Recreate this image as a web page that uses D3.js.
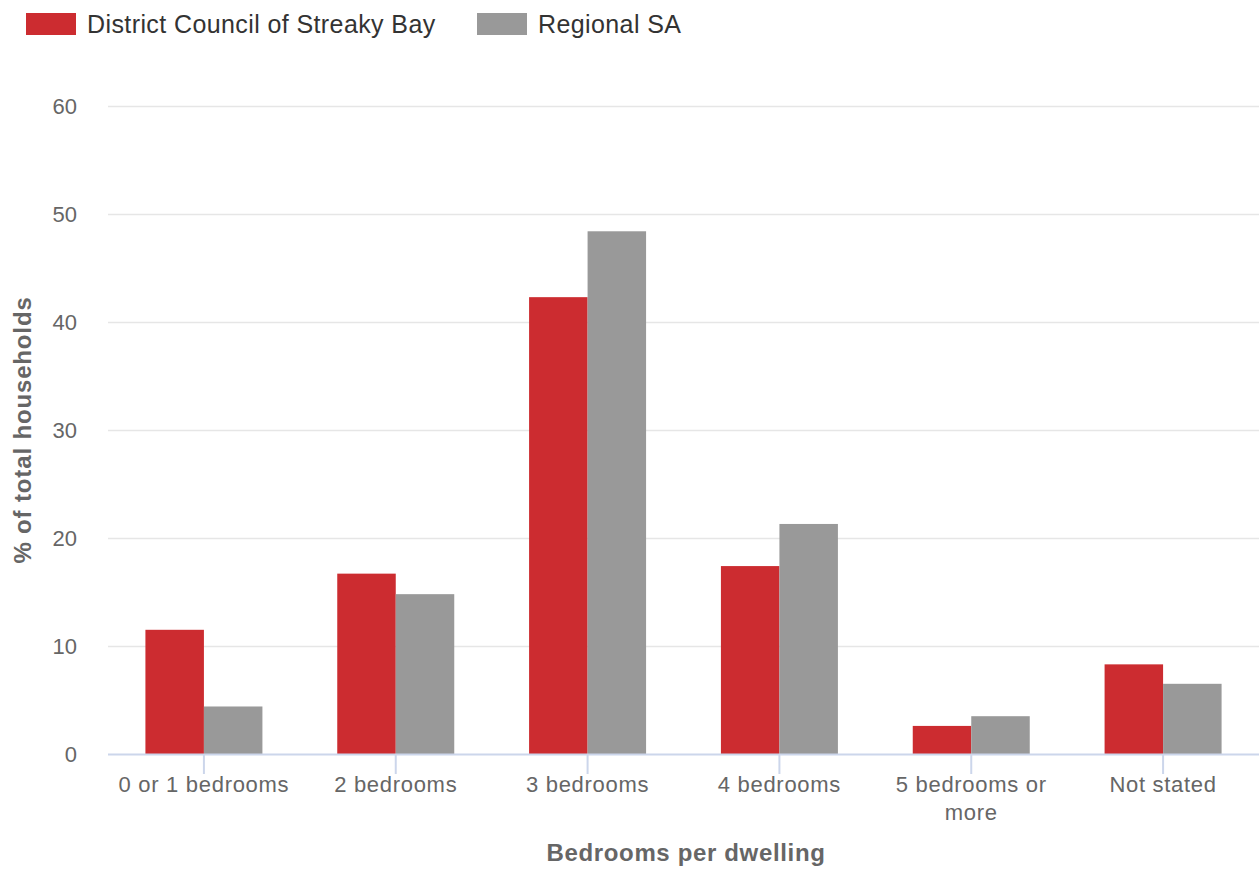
<!DOCTYPE html>
<html><head><meta charset="utf-8">
<script src="https://cdn.jsdelivr.net/npm/d3@7"></script>
<style>body{margin:0;background:#fff;font-family:"Liberation Sans",Arial,sans-serif;}</style>
</head><body><svg id="c" width="1259" height="870"></svg>
<script>
const categories = ["0 or 1 bedrooms","2 bedrooms","3 bedrooms","4 bedrooms","5 bedrooms or more","Not stated"];
const streakyBay = [11.5, 16.7, 42.3, 17.4, 2.6, 8.3];
const regionalSA = [4.4, 14.8, 48.4, 21.3, 3.5, 6.5];
const seriesNames = ["District Council of Streaky Bay","Regional SA"];
const seriesColors = ["#cc2c30","#999999"];
const yTicks = [0,10,20,30,40,50,60];

(function(){
const svg = d3.select("#c");
const pL = 108, pR = 1259, pT = 106, pB = 754;
const x = d3.scaleBand().domain(categories).range([pL,pR]);
const y = d3.scaleLinear().domain([0,60]).range([pB,pT]);
const barW = 58.5;

svg.append("g").selectAll("line").data(yTicks.filter(d=>d>0)).join("line")
  .attr("x1",pL).attr("x2",pR).attr("y1",d=>y(d)+0.5).attr("y2",d=>y(d)+0.5)
  .attr("stroke","#e6e6e6").attr("stroke-width",1.5);

svg.append("g").selectAll("text").data(yTicks).join("text")
  .attr("x",77).attr("y",d=>y(d)+7.5).attr("text-anchor","end")
  .attr("font-size",22).attr("fill","#666").text(d=>d);

const series = [streakyBay, regionalSA];
series.forEach((vals,si)=>{
  svg.append("g").selectAll("rect").data(vals).join("rect")
    .attr("x",(d,i)=>x(categories[i])+x.bandwidth()/2 - barW + si*barW)
    .attr("y",d=>y(d)).attr("width",barW).attr("height",d=>pB-y(d))
    .attr("fill",seriesColors[si]);
});

svg.append("line").attr("x1",pL).attr("x2",pR).attr("y1",pB+0.5).attr("y2",pB+0.5)
  .attr("stroke","#ccd6eb").attr("stroke-width",2);
svg.append("g").selectAll("line").data(categories).join("line")
  .attr("x1",d=>x(d)+x.bandwidth()/2).attr("x2",d=>x(d)+x.bandwidth()/2)
  .attr("y1",pB).attr("y2",pB+20).attr("stroke","#ccd6eb").attr("stroke-width",2);

const xl = svg.append("g");
categories.forEach(c=>{
  const lines = c==="5 bedrooms or more" ? ["5 bedrooms or","more"] : [c];
  const t = xl.append("text").attr("text-anchor","middle").attr("font-size",22)
    .attr("letter-spacing",0.7).attr("fill","#666");
  lines.forEach((l,i)=>t.append("tspan").attr("x",x(c)+x.bandwidth()/2).attr("y",792+i*28).text(l));
});

svg.append("text").attr("x",686).attr("y",861).attr("text-anchor","middle")
  .attr("font-size",24).attr("letter-spacing",0.65).attr("font-weight","bold").attr("fill","#666").text("Bedrooms per dwelling");
svg.append("text").attr("transform","translate(31,430) rotate(-90)").attr("text-anchor","middle")
  .attr("font-size",24).attr("letter-spacing",0.85).attr("font-weight","bold").attr("fill","#666").text("% of total households");

const lg = [26,477];
seriesNames.forEach((n,i)=>{
  svg.append("rect").attr("x",lg[i]).attr("y",13).attr("width",50).attr("height",22).attr("fill",seriesColors[i]);
  svg.append("text").attr("x",lg[i]+61).attr("y",33).attr("font-size",25).attr("letter-spacing",0.4)
    .attr("fill","#333").text(n);
});
})();
</script></body></html>
